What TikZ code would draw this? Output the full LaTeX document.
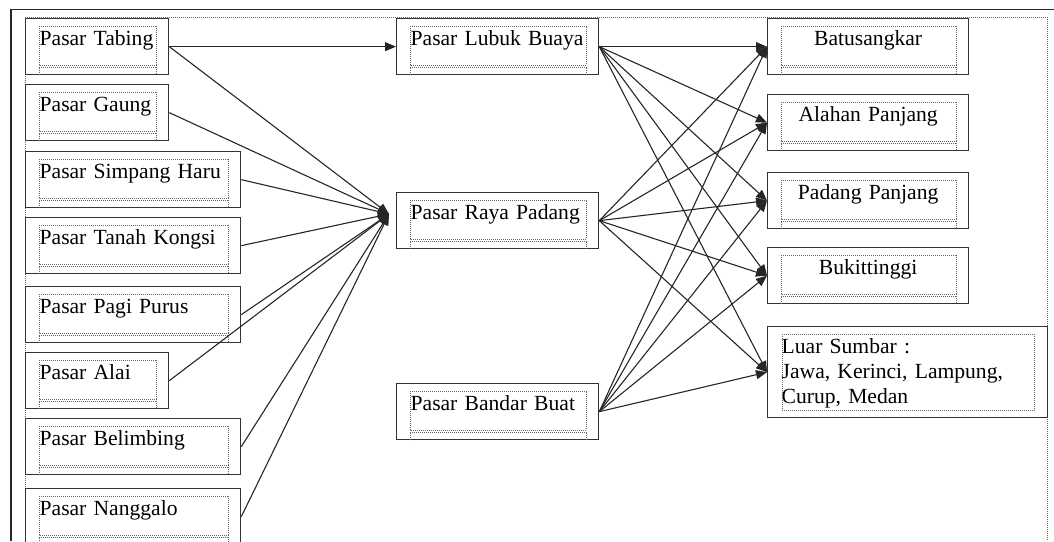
\documentclass[tikz,border=0pt]{standalone}
\usepackage{fontspec}
\setmainfont[WordSpace=0.6]{Liberation Serif}
\usetikzlibrary{arrows.meta}

\tikzset{
  pbox/.style={draw=black!80, line width=1.3pt, rectangle, anchor=north west,
    inner xsep=14pt, inner ysep=0pt, text height=27pt, text depth=29pt,
    align=left, font=\fontsize{21.6}{25}\selectfont},
  inbox/.style={draw=black!60, line width=0.9pt, dash pattern=on 1pt off 1pt},
  frame/.style={draw=black!85, line width=1.6pt},
  flow/.style={line width=1.1pt, draw=black!85, -{Triangle[length=11pt,width=9pt]}}
}

\begin{document}
\begin{tikzpicture}[x=1pt,y=-1pt]

  \useasboundingbox (0,0) rectangle (1054,541);

  % frame of the page
  \draw[frame] (11,541) -- (11,9.5) -- (1054,9.5);
  \draw[inbox] (25,541) -- (25,17) -- (1047,17) -- (1047,541);

  % markets in the city
  \node[pbox, text width=115pt] (tabing) at (25,18) {Pasar Tabing};
  \node[pbox, text width=115pt] (gaung) at (25,84) {Pasar Gaung};
  \node[pbox, text width=187pt] (simpang) at (25,151) {Pasar Simpang Haru};
  \node[pbox, text width=187pt] (kongsi) at (25,217) {Pasar Tanah Kongsi};
  \node[pbox, text width=187pt] (purus) at (25,286) {Pasar Pagi Purus};
  \node[pbox, text width=115pt] (alai) at (25,352) {Pasar Alai};
  \node[pbox, text width=187pt] (belimbing) at (25,418) {Pasar Belimbing};
  \node[pbox, text width=187pt] (nanggalo) at (25,488) {Pasar Nanggalo};

  % big markets
  \node[pbox, text width=174pt] (lubuk) at (396,18) {Pasar Lubuk Buaya};
  \node[pbox, text width=174pt] (raya) at (396,192) {Pasar Raya Padang};
  \node[pbox, text width=174pt] (bandar) at (396,383) {Pasar Bandar Buat};

  % destinations
  \node[pbox, text width=173pt, align=center] (batusangkar) at (767,18) {Batusangkar};
  \node[pbox, text width=173pt, align=center] (alahan) at (767,94) {Alahan Panjang};
  \node[pbox, text width=173pt, align=center] (padpanjang) at (767,172) {Padang Panjang};
  \node[pbox, text width=173pt, align=center] (bukit) at (767,247) {Bukittinggi};
  \node[pbox, text width=252pt, text depth=64pt] (luar) at (767,326)
    {Luar Sumbar :\\Jawa, Kerinci, Lampung,\\Curup, Medan};

  % dotted text frames
  \foreach \n in {tabing,gaung,simpang,kongsi,purus,alai,belimbing,nanggalo,
                  lubuk,raya,bandar,batusangkar,alahan,padpanjang,bukit} {
    \draw[inbox] ([shift={(14,8)}]\n.north west) rectangle ([shift={(-13,47)}]\n.north east);
    \draw[inbox] ([shift={(14,0)}]\n.south west) |- ([shift={(-13,49)}]\n.north east)
      -- ([shift={(-13,0)}]\n.south east);
  }
  \draw[inbox] ([shift={(15,8)}]luar.north west) rectangle ([shift={(-14,-8)}]luar.south east);

  \coordinate (hub) at (389,214);

  \draw[flow] (tabing.east) -- (lubuk.west);
  \draw[flow] (tabing.east) -- (hub);
  \draw[flow] (gaung.east) -- (hub);
  \draw[flow] (simpang.east) -- (hub);
  \draw[flow] (kongsi.east) -- (hub);
  \draw[flow] (purus.east) -- (hub);
  \draw[flow] (alai.east) -- (hub);
  \draw[flow] (belimbing.east) -- (hub);
  \draw[flow] (nanggalo.east) -- (hub);

  \draw[flow] (lubuk.east) -- (batusangkar.west);
  \draw[flow] (lubuk.east) -- (alahan.west);
  \draw[flow] (lubuk.east) -- (padpanjang.west);
  \draw[flow] (lubuk.east) -- (bukit.west);
  \draw[flow] (lubuk.east) -- (luar.west);

  \draw[flow] (raya.east) -- (batusangkar.west);
  \draw[flow] (raya.east) -- (alahan.west);
  \draw[flow] (raya.east) -- (padpanjang.west);
  \draw[flow] (raya.east) -- (bukit.west);
  \draw[flow] (raya.east) -- (luar.west);

  \draw[flow] (bandar.east) -- (batusangkar.west);
  \draw[flow] (bandar.east) -- (alahan.west);
  \draw[flow] (bandar.east) -- (padpanjang.west);
  \draw[flow] (bandar.east) -- (bukit.west);
  \draw[flow] (bandar.east) -- (luar.west);

\end{tikzpicture}
\end{document}
